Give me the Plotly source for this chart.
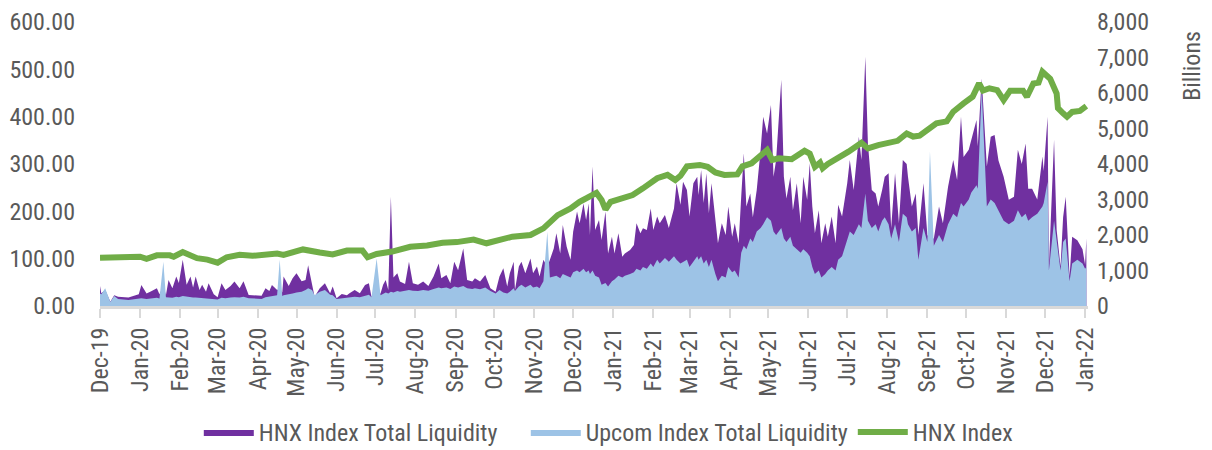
import plotly.graph_objects as go

# daily liquidity (billions VND), sampled off the chart
liq_dates = [
    "2019-12-01", "2019-12-02", "2019-12-05", "2019-12-09", "2019-12-12", "2019-12-15", "2019-12-23", "2019-12-31",
    "2020-01-02", "2020-01-06", "2020-01-10", "2020-01-14", "2020-01-16", "2020-01-19", "2020-01-21", "2020-01-23",
    "2020-01-26", "2020-01-29", "2020-01-31", "2020-02-03", "2020-02-06", "2020-02-09", "2020-02-11", "2020-02-13",
    "2020-02-16", "2020-02-18", "2020-02-21", "2020-02-23", "2020-02-27", "2020-03-01", "2020-03-04", "2020-03-07",
    "2020-03-11", "2020-03-14", "2020-03-18", "2020-03-21", "2020-03-25", "2020-03-30", "2020-04-04", "2020-04-07",
    "2020-04-10", "2020-04-12", "2020-04-16", "2020-04-18", "2020-04-20", "2020-04-21", "2020-04-25", "2020-04-28",
    "2020-05-01", "2020-05-05", "2020-05-08", "2020-05-10", "2020-05-13", "2020-05-15", "2020-05-19", "2020-05-23",
    "2020-05-27", "2020-05-29", "2020-06-01", "2020-06-05", "2020-06-09", "2020-06-11", "2020-06-15", "2020-06-19",
    "2020-06-23", "2020-06-26", "2020-06-28", "2020-07-02", "2020-07-05", "2020-07-07", "2020-07-09", "2020-07-11",
    "2020-07-13", "2020-07-15", "2020-07-18", "2020-07-20", "2020-07-24", "2020-07-27", "2020-07-30", "2020-08-03",
    "2020-08-07", "2020-08-11", "2020-08-15", "2020-08-19", "2020-08-21", "2020-08-25", "2020-08-28", "2020-08-31",
    "2020-09-03", "2020-09-07", "2020-09-10", "2020-09-14", "2020-09-16", "2020-09-20", "2020-09-24", "2020-09-28",
    "2020-10-02", "2020-10-05", "2020-10-08", "2020-10-11", "2020-10-13", "2020-10-16", "2020-10-17", "2020-10-20",
    "2020-10-22", "2020-10-25", "2020-10-29", "2020-10-31", "2020-11-03", "2020-11-05", "2020-11-08", "2020-11-11",
    "2020-11-13", "2020-11-16", "2020-11-18", "2020-11-21", "2020-11-23", "2020-11-26", "2020-11-29", "2020-12-01",
    "2020-12-04", "2020-12-06", "2020-12-09", "2020-12-11", "2020-12-13", "2020-12-14", "2020-12-16", "2020-12-18",
    "2020-12-21", "2020-12-23", "2020-12-26", "2020-12-28", "2020-12-31", "2021-01-02", "2021-01-05", "2021-01-08",
    "2021-01-10", "2021-01-14", "2021-01-17", "2021-01-19", "2021-01-22", "2021-01-24", "2021-01-27", "2021-01-30",
    "2021-02-01", "2021-02-04", "2021-02-06", "2021-02-10", "2021-02-13", "2021-02-17", "2021-02-19", "2021-02-22",
    "2021-02-24", "2021-02-27", "2021-03-01", "2021-03-04", "2021-03-07", "2021-03-08", "2021-03-10", "2021-03-12",
    "2021-03-14", "2021-03-16", "2021-03-18", "2021-03-21", "2021-03-23", "2021-03-26", "2021-03-29", "2021-03-31",
    "2021-04-03", "2021-04-05", "2021-04-08", "2021-04-10", "2021-04-12", "2021-04-14", "2021-04-17", "2021-04-19",
    "2021-04-22", "2021-04-25", "2021-04-27", "2021-04-30", "2021-05-03", "2021-05-05", "2021-05-07", "2021-05-11",
    "2021-05-13", "2021-05-15", "2021-05-18", "2021-05-20", "2021-05-23", "2021-05-26", "2021-05-28", "2021-05-31",
    "2021-06-02", "2021-06-04", "2021-06-06", "2021-06-09", "2021-06-11", "2021-06-14", "2021-06-16", "2021-06-19",
    "2021-06-22", "2021-06-24", "2021-06-27", "2021-07-01", "2021-07-03", "2021-07-06", "2021-07-10", "2021-07-12",
    "2021-07-15", "2021-07-17", "2021-07-20", "2021-07-23", "2021-07-25", "2021-07-28", "2021-07-30", "2021-08-02",
    "2021-08-04", "2021-08-07", "2021-08-10", "2021-08-13", "2021-08-16", "2021-08-17", "2021-08-20", "2021-08-23",
    "2021-08-25", "2021-08-29", "2021-09-01", "2021-09-03", "2021-09-06", "2021-09-10", "2021-09-13", "2021-09-17",
    "2021-09-21", "2021-09-24", "2021-09-27", "2021-09-29", "2021-10-03", "2021-10-05", "2021-10-09", "2021-10-10",
    "2021-10-13", "2021-10-17", "2021-10-20", "2021-10-23", "2021-10-26", "2021-10-30", "2021-11-03", "2021-11-07",
    "2021-11-10", "2021-11-13", "2021-11-16", "2021-11-18", "2021-11-21", "2021-11-25", "2021-11-29", "2021-11-30",
    "2021-12-03", "2021-12-04", "2021-12-08", "2021-12-10", "2021-12-13", "2021-12-15", "2021-12-17", "2021-12-20",
    "2021-12-22", "2021-12-26", "2021-12-30", "2022-01-01", "2022-01-02",
]
hnx_liquidity = [
    560, 360, 450, 120, 300, 260, 240, 330,
    590, 350, 420, 500, 330, 560, 300, 730,
    500, 830, 650, 1300, 600, 830, 520, 830,
    450, 600, 400, 640, 330, 250, 640, 450,
    560, 690, 500, 700, 310, 300, 290, 500,
    420, 590, 450, 500, 380, 830, 560, 780,
    920, 700, 730, 1150, 640, 260, 500, 640,
    360, 550, 220, 340, 300, 360, 450, 360,
    590, 640, 260, 400, 350, 600, 730, 450,
    3080, 800, 920, 690, 620, 1250, 640, 600,
    690, 560, 830, 1200, 780, 870, 640, 1250,
    1010, 1620, 730, 690, 780, 690, 870, 500,
    400, 830, 1060, 550, 920, 1250, 450, 1110,
    1250, 920, 1340, 920, 1110, 830, 1300, 1100,
    1300, 1620, 2050, 1480, 2280, 1670, 1300, 2090,
    2660, 2330, 2890, 2420, 2890, 2000, 3930, 2140,
    2420, 1860, 2660, 1480, 1950, 1480, 2050, 1390,
    1480, 1580, 1720, 2330, 2050, 2190, 2140, 2750,
    2140, 2520, 2330, 2560, 2200, 2750, 3460, 2850,
    3500, 3270, 2520, 3460, 3640, 3130, 3830, 2900,
    3740, 2610, 3460, 2420, 1770, 2330, 2000, 2800,
    1950, 2330, 1770, 3080, 4300, 2800, 3170, 2500,
    3270, 4400, 5330, 4860, 5660, 3640, 4110, 6370,
    3640, 3030, 3640, 2700, 3460, 2330, 3640, 2990,
    4020, 2800, 2050, 2700, 1770, 2330, 1950, 2520,
    1770, 2850, 2520, 3460, 4110, 3270, 4770, 4110,
    7020, 4580, 3270, 3170, 2800, 3270, 3640, 3740,
    2200, 3740, 2330, 4110, 4000, 3640, 2800, 3170,
    2000, 3460, 2000, 1900, 1900, 2800, 2330, 3360,
    4110, 3550, 5330, 4200, 4400, 4680, 5240, 4500,
    6410, 3930, 4770, 4820, 4100, 3640, 2990, 3080,
    4400, 4000, 4580, 3300, 3300, 3000, 4210, 3800,
    5330, 1100, 4680, 2140, 1110, 2500, 3080, 830,
    1950, 1850, 1600, 1160, 1910,
]
upcom_liquidity = [
    350, 330, 500, 110, 280, 200, 170, 200,
    220, 200, 220, 230, 210, 1250, 250, 250,
    230, 260, 250, 280, 260, 250, 240, 240,
    230, 220, 210, 210, 200, 180, 230, 220,
    240, 250, 240, 260, 220, 200, 200, 250,
    260, 280, 300, 1300, 280, 300, 320, 350,
    380, 400, 450, 500, 450, 300, 400, 450,
    320, 300, 200, 220, 230, 240, 260, 250,
    300, 320, 250, 1340, 300, 350, 380, 350,
    400, 380, 420, 400, 420, 450, 430, 420,
    450, 430, 480, 520, 500, 520, 480, 550,
    520, 560, 500, 480, 500, 470, 520, 420,
    350, 450, 380, 350, 400, 500, 420, 550,
    600, 520, 600, 520, 550, 500, 700, 2090,
    800, 820, 850, 780, 900, 850, 800, 950,
    1000, 950, 1050, 950, 1000, 900, 1000, 850,
    800, 600, 650, 550, 700, 750, 850, 800,
    850, 900, 950, 1050, 1000, 1100, 1050, 1200,
    1100, 1300, 1200, 1350, 1250, 1400, 1300, 1200,
    1250, 1300, 1100, 1250, 1400, 1300, 1400, 1200,
    1300, 1100, 1300, 900, 700, 850, 800, 1100,
    950, 1000, 800, 1500, 1700, 1600, 1900, 1800,
    2100, 2200, 2300, 2500, 2400, 2100, 2000, 2200,
    1900, 1800, 1950, 1700, 1600, 1500, 1600, 1500,
    1400, 1100, 900, 1000, 800, 900, 1000, 1100,
    1000, 1300, 1400, 1900, 2100, 2000, 2300, 2200,
    3170, 2400, 2200, 2300, 2100, 2400, 2500, 2300,
    1900, 2300, 1800, 2600, 2500, 2300, 2100, 2200,
    1300, 2200, 1800, 4350, 1700, 2000, 1800, 2300,
    2600, 2500, 2900, 2800, 3000, 3200, 3400, 3300,
    6090, 2800, 3000, 2900, 2700, 2400, 2300, 2400,
    2700, 2500, 2600, 2400, 2500, 2600, 2800, 2900,
    3500, 1000, 2400, 1800, 1000, 1800, 1900, 700,
    1200, 1300, 1200, 1050, 1100,
]

# HNX Index level
idx_dates = [
    "2019-12-01", "2019-12-13", "2020-01-01", "2020-01-06", "2020-01-14", "2020-01-24", "2020-01-27", "2020-02-03",
    "2020-02-14", "2020-02-22", "2020-03-01", "2020-03-08", "2020-03-18", "2020-03-28", "2020-04-08", "2020-04-16",
    "2020-04-21", "2020-05-06", "2020-05-19", "2020-05-29", "2020-06-09", "2020-06-21", "2020-06-25", "2020-07-02",
    "2020-07-14", "2020-07-20", "2020-07-28", "2020-08-10", "2020-08-22", "2020-09-02", "2020-09-15", "2020-09-25",
    "2020-10-05", "2020-10-15", "2020-10-29", "2020-11-08", "2020-11-19", "2020-11-29", "2020-12-06", "2020-12-14",
    "2020-12-19", "2020-12-23", "2020-12-26", "2020-12-30", "2021-01-06", "2021-01-16", "2021-01-24", "2021-02-04",
    "2021-02-12", "2021-02-18", "2021-02-22", "2021-02-27", "2021-03-09", "2021-03-15", "2021-03-21", "2021-03-28",
    "2021-04-07", "2021-04-11", "2021-04-18", "2021-04-25", "2021-04-30", "2021-05-04", "2021-05-09", "2021-05-19",
    "2021-05-29", "2021-06-02", "2021-06-06", "2021-06-10", "2021-06-12", "2021-06-16", "2021-06-24", "2021-07-02",
    "2021-07-12", "2021-07-17", "2021-07-25", "2021-08-02", "2021-08-09", "2021-08-16", "2021-08-21", "2021-08-26",
    "2021-09-01", "2021-09-08", "2021-09-16", "2021-09-21", "2021-09-29", "2021-10-06", "2021-10-11", "2021-10-14",
    "2021-10-19", "2021-10-25", "2021-10-30", "2021-11-04", "2021-11-14", "2021-11-17", "2021-11-22", "2021-11-26",
    "2021-11-29", "2021-12-05", "2021-12-10", "2021-12-11", "2021-12-15", "2021-12-18", "2021-12-22", "2021-12-28",
    "2022-01-02",
]
hnx_index = [
    102, 103, 104, 99.5, 107, 107, 104, 114,
    101, 98, 91.5, 103, 108, 106, 108, 111,
    108, 119.5, 113, 109, 117, 117, 103, 110,
    115, 120, 125, 128, 133.5, 135, 140.5, 132.5,
    139.5, 146.5, 150, 164, 192, 206, 220, 231,
    239, 224, 204, 220, 225, 234.5, 248.5, 270,
    277, 266, 275, 295, 298, 294, 282, 277,
    278, 295, 301.5, 319, 329.5, 308.5, 312, 310,
    328, 322, 294, 303, 291, 300, 312, 326,
    345, 333, 340, 345, 349, 364.5, 358, 360,
    372, 386, 390, 410.5, 428, 442, 470.5, 455,
    460, 456, 435, 455, 455, 442, 470, 472,
    495, 480, 449, 418, 407, 400, 410, 412,
    422.5,
]

PURPLE = "#7030A0"
BLUE = "#9DC3E6"
GREEN = "#70AD47"
GREY = "#595959"
FONT = "Liberation Sans Narrow, Arial Narrow, Roboto Condensed, Liberation Sans, sans-serif"

fig = go.Figure()
fig.add_trace(go.Scatter(
    x=liq_dates, y=hnx_liquidity, name="HNX Index Total Liquidity",
    mode="lines", fill="tozeroy", fillcolor=PURPLE, line=dict(color=PURPLE, width=0),
))
fig.add_trace(go.Scatter(
    x=liq_dates, y=upcom_liquidity, name="Upcom Index Total Liquidity",
    mode="lines", fill="tozeroy", fillcolor=BLUE, line=dict(color=BLUE, width=0),
))
# index line on the overlay axis so it is drawn above the areas
fig.add_trace(go.Scatter(
    x=idx_dates, y=hnx_index, name="HNX Index", yaxis="y2",
    mode="lines", line=dict(color=GREEN, width=6),
))

# the page body adds an 8px margin, so the figure is 8px smaller and shifted
fig.update_layout(
    width=1204, height=442,
    margin=dict(l=92, r=124, t=14, b=144, autoexpand=False),
    plot_bgcolor="white", paper_bgcolor="white",
    font=dict(family=FONT, size=24, color=GREY),
    showlegend=True,
    legend=dict(orientation="h", x=0.10, xanchor="left", y=-0.445, yanchor="middle",
                font=dict(size=24, color=GREY), itemwidth=50,
                entrywidth=262, entrywidthmode="pixels"),
    xaxis=dict(
        type="date", range=["2019-12-01", "2022-01-03 06:00"],
        tick0="2019-12-01", dtick="M1", tickformat="%b-%y", tickangle=-90,
        ticks="outside", ticklen=9, tickwidth=2, tickcolor="#D9D9D9",
        showline=True, linecolor="#D9D9D9", linewidth=3,
        showgrid=False, zeroline=False, automargin=False,
    ),
    yaxis=dict(
        side="right", range=[0, 8000], dtick=1000, tickformat=",",
        showgrid=False, zeroline=False, ticklabelstandoff=8, automargin=False,
    ),
    yaxis2=dict(
        overlaying="y", side="left", range=[0, 600], dtick=100, tickformat=".2f",
        showgrid=False, zeroline=False, ticklabelstandoff=24, automargin=False,
    ),
    annotations=[dict(
        text="Billions", textangle=-90, xref="paper", yref="paper",
        x=1.105, y=0.845, xanchor="center", yanchor="middle", showarrow=False,
        font=dict(size=24, color=GREY),
    )],
)

fig.write_html("out.html")
